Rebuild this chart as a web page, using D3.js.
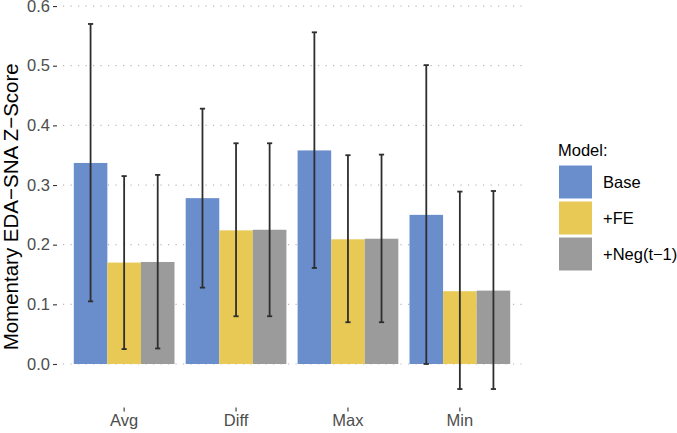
<!DOCTYPE html>
<html lang="en">
<head>
  <meta charset="UTF-8">
  <title>Momentary EDA-SNA Z-Score by model</title>
  <style>
    body { margin: 0; background: #fff; }
    text { font-family: "Liberation Sans", Arial, sans-serif; }
    .grid line { stroke: #b8b8b8; stroke-width: 1.2; stroke-dasharray: 1.2 6.3; }
  </style>
  <script src="https://d3js.org/d3.v7.min.js"></script>
</head>
<body>
<div id="chart"></div>
<script>
  // data
  var categories = ["Avg", "Diff", "Max", "Min"];
  var models = ["Base", "+FE", "+Neg(t\u22121)"];
  var colors = ["#6a8dcb", "#e8c955", "#9b9b9b"];

  var baseMean = [0.337, 0.278, 0.358, 0.250];
  var baseLow  = [0.105, 0.128, 0.161, 0.000];
  var baseHigh = [0.570, 0.428, 0.556, 0.501];

  var feMean = [0.170, 0.224, 0.209, 0.122];
  var feLow  = [0.025, 0.080, 0.070, -0.042];
  var feHigh = [0.315, 0.370, 0.350, 0.289];

  var negMean = [0.171, 0.225, 0.210, 0.123];
  var negLow  = [0.026, 0.080, 0.070, -0.042];
  var negHigh = [0.317, 0.370, 0.351, 0.290];

  var yTicks = [0.0, 0.1, 0.2, 0.3, 0.4, 0.5, 0.6];

  // build rows
  var series = [
    { mean: baseMean, low: baseLow, high: baseHigh },
    { mean: feMean, low: feLow, high: feHigh },
    { mean: negMean, low: negLow, high: negHigh }
  ];
  var rows = [];
  categories.forEach(function(c, i) {
    models.forEach(function(m, j) {
      rows.push({ cat: c, model: m, mean: series[j].mean[i], low: series[j].low[i], high: series[j].high[i], color: colors[j] });
    });
  });

  var width = 677, height = 433;
  var panelL = 57, panelR = 527, panelT = 6, panelB = 407.6;

  var svg = d3.select("#chart").append("svg")
    .attr("width", width)
    .attr("height", height);

  var x = d3.scaleBand().domain(categories).range([panelL, panelR])
    .paddingInner(0.1).paddingOuter(0.15);
  var x1 = d3.scaleBand().domain(models).range([0, x.bandwidth()]);
  var y = d3.scaleLinear().domain([-0.0731, 0.6001]).range([panelB, panelT]);

  // dotted horizontal grid
  svg.append("g").attr("class", "grid")
    .selectAll("line")
    .data(yTicks)
    .enter().append("line")
    .attr("x1", panelL + 6).attr("x2", panelR)
    .attr("y1", d => y(d)).attr("y2", d => y(d));

  // bars
  svg.append("g")
    .selectAll("rect")
    .data(rows)
    .enter().append("rect")
    .attr("x", d => x(d.cat) + x1(d.model))
    .attr("width", x1.bandwidth())
    .attr("y", d => y(Math.max(0, d.mean)))
    .attr("height", d => Math.abs(y(d.mean) - y(0)))
    .attr("fill", d => d.color);

  // error bars
  var cap = 2.6;
  var eb = svg.append("g")
    .attr("stroke", "#2e2e2e")
    .attr("stroke-width", 1.8)
    .selectAll("g")
    .data(rows)
    .enter().append("g")
    .attr("transform", d => "translate(" + (x(d.cat) + x1(d.model) + x1.bandwidth() / 2) + ",0)");
  eb.append("line")
    .attr("x1", 0).attr("x2", 0)
    .attr("y1", d => y(d.low)).attr("y2", d => y(d.high));
  eb.append("line")
    .attr("x1", -cap).attr("x2", cap)
    .attr("y1", d => y(d.low)).attr("y2", d => y(d.low));
  eb.append("line")
    .attr("x1", -cap).attr("x2", cap)
    .attr("y1", d => y(d.high)).attr("y2", d => y(d.high));

  // y axis
  var yAxis = svg.append("g")
    .attr("transform", "translate(" + panelL + ",0)")
    .call(d3.axisLeft(y).tickValues(yTicks).tickFormat(d3.format(".1f")).tickSize(4).tickPadding(3));
  yAxis.select(".domain").remove();
  yAxis.selectAll(".tick line").attr("stroke", "#333").attr("stroke-width", 1.1);
  yAxis.selectAll(".tick text").attr("fill", "#4d4d4d").style("font-size", "16.5px");

  // x axis
  var xAxis = svg.append("g")
    .attr("transform", "translate(0," + panelB + ")")
    .call(d3.axisBottom(x).tickSize(4).tickPadding(3));
  xAxis.select(".domain").remove();
  xAxis.selectAll(".tick line").attr("stroke", "#333").attr("stroke-width", 1.1);
  xAxis.selectAll(".tick text").attr("fill", "#4d4d4d").style("font-size", "16.5px");

  // y title
  svg.append("text")
    .attr("transform", "translate(18," + ((panelT + panelB) / 2) + ") rotate(-90)")
    .attr("text-anchor", "middle")
    .style("font-size", "20.5px")
    .attr("fill", "#000")
    .text("Momentary EDA\u2212SNA Z\u2212Score");

  // legend
  var lg = svg.append("g").attr("transform", "translate(558,0)");
  lg.append("text")
    .attr("x", 0).attr("y", 156)
    .style("font-size", "16.5px")
    .text("Model:");
  var item = lg.selectAll(".item")
    .data(models)
    .enter().append("g")
    .attr("class", "item")
    .attr("transform", (d, i) => "translate(0," + (165.5 + i * 36) + ")");
  item.append("rect")
    .attr("x", 1).attr("y", 0)
    .attr("width", 33).attr("height", 33)
    .attr("fill", (d, i) => colors[i]);
  item.append("text")
    .attr("x", 45).attr("y", 16.5)
    .attr("dy", "0.35em")
    .style("font-size", "16.5px")
    .text(d => d);
</script>
</body>
</html>
